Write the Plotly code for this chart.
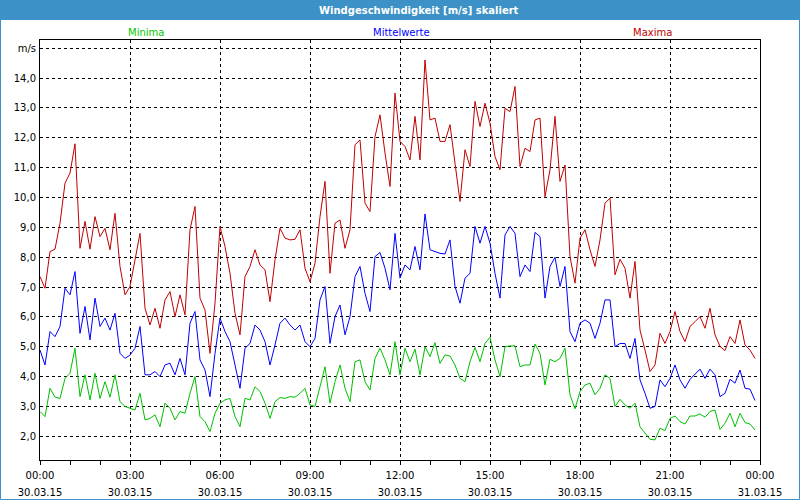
import pandas as pd
import plotly.graph_objects as go

# 10-minute samples, 30.03.15 00:00 .. 23:50
times = pd.date_range("2015-03-30 00:00", periods=144, freq="10min")

maxima = [
    7.35, 6.96, 8.19, 8.27, 9.14, 10.48, 10.82, 11.80, 8.30, 9.20, 8.27, 9.36,
    8.69, 8.97, 8.25, 9.47, 7.69, 6.74, 7.02, 7.90, 8.80, 6.29, 5.73, 6.29,
    5.62, 6.57, 6.85, 6.01, 6.74, 6.07, 8.92, 9.70, 6.63, 6.23, 4.78, 6.46,
    9.03, 8.36, 7.46, 6.12, 5.40, 7.35, 7.69, 8.25, 7.74, 7.58, 6.51, 7.91,
    8.97, 8.64, 8.58, 8.60, 8.92, 7.63, 7.18, 7.80, 9.36, 10.54, 7.46, 9.14,
    9.25, 8.30, 8.92, 11.77, 11.93, 9.81, 9.53, 12.04, 12.77, 11.49, 10.37, 13.50,
    11.88, 11.71, 11.26, 12.72, 11.26, 14.61, 12.60, 12.66, 11.88, 11.88, 12.44, 11.15,
    9.87, 11.60, 11.04, 13.22, 12.38, 13.16, 12.49, 11.37, 10.93, 12.99, 12.88, 13.72,
    11.04, 11.65, 11.54, 12.60, 12.66, 10.03, 10.93, 12.72, 10.54, 11.09, 8.02, 7.13,
    8.64, 8.92, 8.25, 7.69, 8.58, 9.81, 9.98, 7.41, 7.93, 7.63, 6.63, 7.86,
    5.56, 4.89, 4.17, 4.39, 5.45, 5.11, 5.51, 6.18, 5.51, 5.17, 5.68, 5.84,
    6.01, 5.62, 6.29, 5.40, 5.01, 4.87, 5.34, 5.11, 5.90, 5.06, 4.89, 4.61,
]

mittelwerte = [
    4.89, 4.39, 5.51, 5.34, 5.68, 6.96, 6.74, 7.52, 5.45, 6.35, 5.23, 6.63,
    5.68, 5.96, 5.56, 6.12, 4.78, 4.61, 4.72, 4.95, 5.68, 4.06, 4.06, 4.17,
    4.00, 4.39, 4.45, 4.06, 4.61, 4.06, 5.79, 6.18, 4.56, 4.22, 3.33, 4.78,
    5.96, 5.51, 5.17, 4.34, 3.61, 4.95, 5.11, 5.73, 5.56, 5.17, 4.39, 5.06,
    5.79, 5.96, 5.73, 5.56, 5.73, 5.17, 5.00, 5.28, 6.57, 7.02, 5.11, 6.01,
    6.40, 5.40, 6.01, 7.35, 7.69, 6.79, 6.18, 8.02, 8.16, 7.63, 6.91, 8.80,
    7.30, 7.74, 7.58, 8.36, 7.58, 9.45, 8.25, 8.19, 8.13, 8.11, 8.58, 7.02,
    6.46, 7.30, 7.46, 9.03, 8.47, 9.03, 8.47, 7.46, 6.63, 8.75, 9.03, 8.80,
    7.35, 7.74, 7.52, 8.83, 8.69, 6.63, 7.69, 8.00, 7.02, 7.69, 5.51, 5.17,
    5.79, 5.90, 5.79, 5.28, 5.79, 6.57, 6.57, 5.00, 5.11, 5.11, 4.61, 5.28,
    3.89, 3.44, 2.94, 3.00, 3.89, 3.66, 3.94, 4.39, 3.89, 3.61, 3.91, 4.08,
    4.25, 3.94, 4.25, 4.06, 3.33, 3.44, 3.91, 3.78, 4.22, 3.61, 3.58, 3.20,
]

minima = [
    2.83, 2.66, 3.61, 3.31, 3.27, 3.94, 4.11, 4.95, 3.33, 4.06, 3.22, 4.11,
    3.27, 3.83, 3.31, 4.06, 3.16, 3.00, 2.94, 2.88, 3.44, 2.55, 2.60, 2.72,
    2.32, 3.11, 2.94, 2.55, 2.83, 2.77, 3.44, 4.00, 2.66, 2.49, 2.16, 2.77,
    3.11, 3.22, 3.27, 2.66, 2.32, 3.27, 3.22, 3.66, 3.50, 3.11, 2.60, 3.16,
    3.30, 3.27, 3.33, 3.31, 3.44, 3.61, 3.05, 3.00, 3.66, 4.33, 3.11, 3.83,
    4.39, 3.61, 3.16, 4.50, 4.56, 3.83, 3.55, 4.61, 4.95, 4.56, 4.06, 5.17,
    4.06, 4.95, 4.50, 4.92, 4.06, 5.00, 4.67, 5.14, 4.44, 4.73, 4.69, 4.39,
    3.94, 3.83, 4.50, 4.98, 4.50, 5.11, 5.32, 4.56, 4.00, 5.00, 5.03, 5.03,
    4.33, 4.39, 4.39, 5.09, 4.78, 3.72, 4.58, 4.50, 4.61, 4.95, 3.39, 2.92,
    3.50, 3.72, 3.78, 3.39, 3.61, 4.06, 3.94, 3.00, 3.24, 3.05, 2.94, 3.11,
    2.32, 2.10, 1.90, 1.88, 2.27, 2.19, 2.60, 2.68, 2.49, 2.41, 2.68, 2.68,
    2.75, 2.64, 2.83, 2.88, 2.23, 2.44, 2.77, 2.32, 2.77, 2.46, 2.41, 2.21,
]

y_tickvals = [2, 3, 4, 5, 6, 7, 8, 9, 10, 11, 12, 13, 14, 15]
y_ticktext = ["2,0", "3,0", "4,0", "5,0", "6,0", "7,0", "8,0", "9,0", "10,0",
              "11,0", "12,0", "13,0", "14,0", "m/s"]

x_tickvals = pd.date_range("2015-03-30 00:00", periods=9, freq="3h")
x_time_text = [f"{t:%H:%M}" for t in x_tickvals]
x_date_text = [f"{t:%d.%m.%y}" for t in x_tickvals]

title_text = "Windgeschwindigkeit [m/s] skaliert"
series = [
    ("Minima", minima, "rgb(0,192,0)", "rgb(0,200,0)", 0.1472),
    ("Mittelwerte", mittelwerte, "rgb(0,0,255)", "rgb(0,0,255)", 0.5014),
    ("Maxima", maxima, "rgb(192,0,0)", "rgb(192,0,0)", 0.85),
]

FONT = "DejaVu Sans"
XRANGE = ["2015-03-30 00:00", "2015-03-31 00:00"]
fig = go.Figure()
for name, vals, lc, tc, lx in series:
    fig.add_trace(go.Scatter(x=times, y=vals, mode="lines", name=name,
                             line=dict(color=lc, width=1)))
# invisible helper trace so the second (date) label axis is drawn
fig.add_trace(go.Scatter(x=[times[0]], y=[minima[0]], xaxis="x2", mode="lines",
                         line=dict(width=0), hoverinfo="skip", showlegend=False))

W, H = 800, 500
L, R, T, B = 40, 40, 40, 40
pw, ph = W - L - R, H - T - B


def px_x(p):
    return (p - L) / pw


def px_y(p):
    return (H - B - p) / ph


shapes = [
    dict(type="rect", xref="paper", yref="paper",
         x0=px_x(0), x1=px_x(W), y0=px_y(20), y1=px_y(0),
         fillcolor="rgb(60,145,198)", line=dict(width=0), layer="below"),
    dict(type="rect", xref="paper", yref="paper",
         x0=px_x(0.5), x1=px_x(W - 0.5), y0=px_y(H - 0.5), y1=px_y(0.5),
         line=dict(color="rgb(60,145,198)", width=1), fillcolor="rgba(0,0,0,0)"),
]

annotations = [
    dict(text=f"<b>{title_text}</b>", xref="paper", yref="paper",
         x=px_x(418.5), y=px_y(10), showarrow=False,
         font=dict(family=FONT, size=10, color="white"),
         xanchor="center", yanchor="middle"),
]
for name, vals, lc, tc, lx in series:
    annotations.append(dict(text=name, xref="paper", yref="paper",
                            x=lx, y=px_y(32), showarrow=False,
                            font=dict(family=FONT, size=10, color=tc),
                            xanchor="center", yanchor="middle"))

fig.update_layout(
    width=W, height=H,
    margin=dict(l=L, r=R, t=T, b=B, pad=0, autoexpand=False),
    paper_bgcolor="white", plot_bgcolor="white",
    showlegend=False,
    font=dict(family=FONT, size=10, color="black"),
    shapes=shapes, annotations=annotations,
    xaxis=dict(
        range=XRANGE, automargin=False,
        tickvals=x_tickvals, ticktext=x_time_text,
        ticks="outside", ticklen=4, tickcolor="black", tickwidth=1,
        minor=dict(dtick=3600000, ticks="outside", ticklen=4,
                   tickcolor="black", showgrid=False),
        showgrid=True, gridcolor="black", gridwidth=1, griddash="3px,3px",
        showline=True, linecolor="black", linewidth=1, mirror=True,
        zeroline=False, ticklabelstandoff=2,
        tickfont=dict(family=FONT, size=10),
    ),
    xaxis2=dict(
        range=XRANGE, overlaying="x", side="bottom", anchor="y",
        automargin=False,
        tickvals=x_tickvals, ticktext=x_date_text,
        ticks="", showgrid=False, showline=False, zeroline=False,
        ticklabelstandoff=25, tickfont=dict(family=FONT, size=10),
    ),
    yaxis=dict(
        range=[1.206, 15.278], automargin=False,
        tickvals=y_tickvals, ticktext=y_ticktext,
        ticks="", showgrid=True, gridcolor="black", gridwidth=1,
        griddash="3px,3px",
        showline=True, linecolor="black", linewidth=1, mirror=True,
        zeroline=False, ticklabelstandoff=1,
        tickfont=dict(family=FONT, size=10),
    ),
)

fig.write_html("out.html", config={"displayModeBar": False},
               post_script="document.body.style.margin='0';document.body.style.overflow='hidden';")
